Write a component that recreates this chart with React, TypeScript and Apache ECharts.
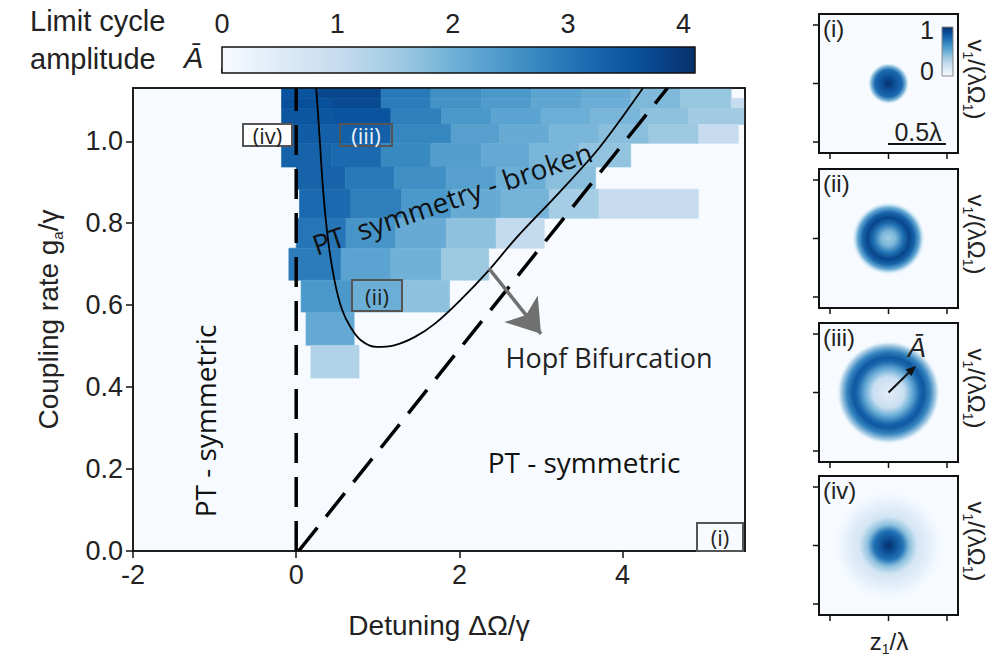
import React, { useEffect, useRef } from 'react';
import * as echarts from 'echarts';

const AX_FONT = "'Liberation Sans', Arial, Helvetica, sans-serif";
const AN_FONT = "'Open Sans', 'Liberation Sans', sans-serif";

// ---- axes ----
const xTicks = [-2, 0, 2, 4];
const yTicks = [0, 0.2, 0.4, 0.6, 0.8, 1.0];
const colorbarTicks = [0, 1, 2, 3, 4];
const xMin = -2;
const xMax = 5.5;
const yMin = 0;
const yMax = 1.13;
const ampMin = 0;
const ampMax = 4.1;

// ---- limit-cycle amplitude map: row edges (g_a/γ) and cells [x0, x1, amplitude] ----
const rowEdges = [1.13, 1.105, 1.08, 1.041, 0.995, 0.937, 0.883, 0.812, 0.739, 0.661, 0.583, 0.502, 0.422];
const row01 = [[-0.18, 0.26, 3.55], [0.26, 1.04, 3.75], [1.04, 1.65, 2.95], [1.65, 2.27, 2.6], [2.27, 2.88, 2.45], [2.88, 3.49, 2.25], [3.49, 4.1, 2.1], [4.1, 4.71, 1.85], [4.71, 5.33, 1.6]];
const row02 = [[-0.18, 0.43, 3.6], [0.43, 1.04, 3.7], [1.04, 1.65, 2.9], [1.65, 2.27, 2.55], [2.27, 2.88, 2.4], [2.88, 3.49, 2.2], [3.49, 4.1, 2.05], [4.1, 4.71, 1.85], [4.71, 5.33, 1.6], [5.33, 5.49, 1.0]];
const row03 = [[-0.18, 0.45, 3.5], [0.45, 1.16, 3.55], [1.16, 1.78, 2.85], [1.78, 2.39, 2.45], [2.39, 3.0, 2.25], [3.0, 3.6, 2.05], [3.6, 4.22, 1.9], [4.22, 4.81, 1.7], [4.81, 5.49, 1.5]];
const row04 = [[-0.18, 0.3, 3.4], [0.3, 1.16, 3.35], [1.16, 1.9, 2.75], [1.9, 2.49, 2.3], [2.49, 3.1, 2.1], [3.1, 3.71, 1.9], [3.71, 4.32, 1.75], [4.32, 4.93, 1.55], [4.93, 5.42, 1.0]];
const row05 = [[-0.18, 0.43, 3.3], [0.43, 1.04, 3.2], [1.04, 1.65, 2.7], [1.65, 2.27, 2.35], [2.27, 2.86, 2.15], [2.86, 3.47, 1.9], [3.47, 4.1, 1.65]];
const row06 = [[0.0, 0.6, 3.3], [0.6, 1.2, 2.95], [1.2, 1.84, 2.6], [1.84, 2.45, 2.3], [2.45, 3.06, 2.05], [3.06, 3.67, 1.75]];
const row07 = [[0.04, 0.67, 3.2], [0.67, 1.29, 2.85], [1.29, 1.9, 2.45], [1.9, 2.51, 2.1], [2.51, 3.1, 1.95], [3.1, 3.71, 1.45], [3.71, 4.93, 1.0]];
const row08 = [[0.0, 0.61, 3.0], [0.61, 1.22, 2.5], [1.22, 1.84, 2.1], [1.84, 2.45, 1.7], [2.45, 3.04, 1.05]];
const row09 = [[-0.09, 0.55, 2.9], [0.55, 1.16, 2.25], [1.16, 1.78, 2.0], [1.78, 2.36, 1.55]];
const row10 = [[0.06, 0.69, 2.45], [0.69, 1.29, 2.05], [1.29, 1.88, 1.7]];
const row11 = [[0.12, 0.71, 2.15]];
const row12 = [[0.18, 0.77, 1.3]];
const heatRows = [row01, row02, row03, row04, row05, row06, row07, row08, row09, row10, row11, row12];

// ---- boundaries ----
const verticalBoundary = [[0, 0], [0, 1.13]];
const hopfBoundary = [[0.03, 0], [4.55, 1.13]];
const brokenBoundary = [
  [0.245, 1.13], [0.27, 1.06], [0.29, 1.0], [0.33, 0.88], [0.39, 0.76], [0.47, 0.66], [0.56, 0.59],
  [0.67, 0.545], [0.8, 0.513], [0.98, 0.498], [1.2, 0.502], [1.45, 0.522], [1.7, 0.555], [2.0, 0.61],
  [2.36, 0.685], [2.7, 0.765], [3.2, 0.87], [3.71, 0.983], [4.25, 1.13],
];
const hopfArrow = [[2.36, 0.69], [3.0, 0.53]];

const BLUES = ['#f7fbff', '#deebf7', '#c6dbef', '#9ecae1', '#6baed6', '#4292c6', '#2171b5', '#08519c', '#08306b'];

function hexToRgb(h: string) {
  return [parseInt(h.slice(1, 3), 16), parseInt(h.slice(3, 5), 16), parseInt(h.slice(5, 7), 16)];
}
function blues(v: number) {
  const t = Math.max(0, Math.min(1, (v - ampMin) / (ampMax - ampMin))) * (BLUES.length - 1);
  const i = Math.min(BLUES.length - 2, Math.floor(t));
  const f = t - i;
  const a = hexToRgb(BLUES[i]);
  const b = hexToRgb(BLUES[i + 1]);
  const c = a.map((av, k) => Math.round(av + (b[k] - av) * f));
  return `rgb(${c[0]},${c[1]},${c[2]})`;
}

const axisLineStyle = { color: '#111', width: 1.5 };

function radial(stops: [number, string][]) {
  return new echarts.graphic.RadialGradient(0.5, 0.5, 0.5, stops.map(([o, c]) => ({ offset: o, color: c })));
}

function buildGraphics() {
  const g: any[] = [];
  const txt = (x: number, y: number, text: string, opts: any = {}) => ({
    type: 'text', x, y, z: 100, rotation: opts.rotation || 0,
    style: {
      text, fill: opts.fill || '#222', fontSize: opts.fontSize || 27, fontFamily: opts.fontFamily || AN_FONT,
      fontStyle: opts.fontStyle || 'normal', align: opts.align || 'center', verticalAlign: opts.verticalAlign || 'middle',
      rich: opts.rich,
    },
  });
  // colour bar title
  g.push(txt(30, 21, 'Limit cycle', { align: 'left', fontFamily: AX_FONT, fontSize: 29 }));
  g.push(txt(30, 59, 'amplitude', { align: 'left', fontFamily: AX_FONT, fontSize: 29 }));
  g.push(txt(184, 58, 'Ā', { align: 'left', fontFamily: AX_FONT, fontSize: 29, fontStyle: 'italic' }));

  // annotations in the main panel
  g.push(txt(452, 198, 'PT  symmetry - broken', { rotation: 0.33, fontSize: 28, fill: '#111' }));
  g.push(txt(609, 357, 'Hopf Bifurcation', { fontSize: 27 }));
  g.push(txt(584, 462, 'PT - symmetric', { fontSize: 28, fill: '#111' }));
  g.push(txt(205, 421, 'PT - symmetric', { fontSize: 28, fill: '#111', rotation: Math.PI / 2 }));

  const box = (x: number, y: number, w: number, h: number, label: string, fill: string, color: string) => {
    g.push({ type: 'rect', z: 100, shape: { x, y, width: w, height: h }, style: { fill, stroke: '#555', lineWidth: 2 } });
    g.push(txt(x + w / 2, y + h / 2, label, { fontSize: 22, fill: color }));
  };
  box(243, 124, 49, 22, '(iv)', '#ffffff', '#222');
  box(340, 124, 52, 22, '(iii)', 'rgba(0,0,0,0)', '#eef3f8');
  box(352, 280, 50, 31, '(ii)', 'rgba(0,0,0,0)', '#222');
  box(697, 523, 46, 28, '(i)', '#f7fbff', '#222');

  // right-hand phase-space panels
  const L = 819;
  const S = 139;
  const cx = L + S / 2;
  const tops = [14, 169, 323, 476];
  const labels = ['(i)', '(ii)', '(iii)', '(iv)'];
  const blobs: { r: number; stops: [number, string][] }[] = [
    { r: 21, stops: [[0, '#08306b'], [0.3, '#0b4e97'], [0.65, '#1c6ab0'], [0.84, '#8fc2de'], [1, 'rgba(247,251,255,0)']] },
    { r: 37, stops: [[0, '#a3cce2'], [0.2, '#7ab6d9'], [0.4, '#2070b4'], [0.56, '#08458a'], [0.7, '#1763aa'], [0.84, '#6aaed6'], [1, 'rgba(247,251,255,0)']] },
    { r: 52, stops: [[0, '#e4eef9'], [0.3, '#c9def1'], [0.45, '#6aaed6'], [0.6, '#1a67ad'], [0.68, '#0e58a2'], [0.8, '#3686c0'], [0.92, '#b5d4e9'], [1, 'rgba(247,251,255,0)']] },
    { r: 58, stops: [[0, '#08306b'], [0.1, '#0a4a90'], [0.25, '#2272b6'], [0.36, '#8cc0dd'], [0.5, '#d4e5f4'], [0.75, '#e8f1fb'], [1, 'rgba(247,251,255,0)']] },
  ];
  tops.forEach((T, k) => {
    const cy = T + S / 2;
    g.push({ type: 'rect', z: 90, shape: { x: L, y: T, width: S, height: S }, style: { fill: '#f7fbff', stroke: 'none' } });
    g.push({ type: 'circle', z: 91, shape: { cx, cy, r: blobs[k].r }, style: { fill: radial(blobs[k].stops) } });
    g.push({ type: 'rect', z: 95, shape: { x: L, y: T, width: S, height: S }, style: { fill: 'none', stroke: '#111', lineWidth: 2 } });
    [11, 69.5, 128].forEach((o) => {
      g.push({ type: 'line', z: 95, shape: { x1: L - 6, y1: T + o, x2: L, y2: T + o }, style: { stroke: '#111', lineWidth: 1.5 } });
      g.push({ type: 'line', z: 95, shape: { x1: L + o, y1: T + S, x2: L + o, y2: T + S + 6 }, style: { stroke: '#111', lineWidth: 1.5 } });
    });
    g.push(txt(L + 4, T + 14, labels[k], { align: 'left', fontFamily: AX_FONT, fontSize: 24 }));
    g.push(txt(976, cy - 4, '{n|v}{s|1}{n|/(λΩ}{s|1}{n|)}', {
      rotation: -Math.PI / 2, fontFamily: AX_FONT, fontSize: 24,
      rich: {
        n: { fontSize: 24, fontFamily: AX_FONT, fill: '#222', lineHeight: 30 },
        s: { fontSize: 14, fontFamily: AX_FONT, fill: '#222', lineHeight: 14, verticalAlign: 'bottom' },
      },
    }));
  });
  // panel (i) extras: mini colour bar and scale bar
  g.push({
    type: 'rect', z: 96, shape: { x: 942, y: 27, width: 11, height: 49 },
    style: {
      fill: new echarts.graphic.LinearGradient(0, 0, 0, 1, BLUES.slice().reverse().map((c, i) => ({ offset: i / 8, color: c }))),
      stroke: '#888', lineWidth: 1,
    },
  });
  g.push(txt(934, 30, '1', { align: 'right', fontFamily: AX_FONT, fontSize: 25 }));
  g.push(txt(934, 71, '0', { align: 'right', fontFamily: AX_FONT, fontSize: 25 }));
  g.push({ type: 'line', z: 96, shape: { x1: 888, y1: 144, x2: 946, y2: 144 }, style: { stroke: '#111', lineWidth: 2 } });
  g.push(txt(918, 132, '0.5λ', { fontFamily: AX_FONT, fontSize: 25 }));
  // panel (iii) radius arrow
  g.push({ type: 'line', z: 96, shape: { x1: 888.5, y1: 392.5, x2: 910, y2: 371.5 }, style: { stroke: '#111', lineWidth: 2 } });
  g.push({ type: 'polygon', z: 96, shape: { points: [[916, 366], [911.5, 376], [905.5, 369.5]] }, style: { fill: '#111' } });
  g.push(txt(917, 348, 'Ā', { fontFamily: AX_FONT, fontSize: 27, fontStyle: 'italic' }));
  // bottom label
  g.push(txt(889, 641, '{n|z}{s|1}{n|/λ}', {
    fontFamily: AX_FONT, fontSize: 24,
    rich: {
      n: { fontSize: 24, fontFamily: AX_FONT, fill: '#222', lineHeight: 30 },
      s: { fontSize: 14, fontFamily: AX_FONT, fill: '#222', lineHeight: 14, verticalAlign: 'bottom' },
    },
  }));
  return g;
}

export default function App() {
  const ref = useRef<HTMLDivElement>(null);
  useEffect(() => {
    if (!ref.current) return;
    const chart = echarts.init(ref.current, null, { renderer: 'svg' });
    const heatData: number[][] = [];
    heatRows.forEach((row, i) => {
      row.forEach(([x0, x1, v]) => heatData.push([x0, x1, rowEdges[i + 1], rowEdges[i], v]));
    });

    const option: any = {
      animation: false,
      backgroundColor: '#ffffff',
      textStyle: { fontFamily: AX_FONT },
      grid: [
        { left: 133, top: 88, width: 612, height: 463, show: true, backgroundColor: '#f7fbff', borderColor: '#111', borderWidth: 1.5 },
        { left: 222, top: 47, width: 473, height: 26, show: false },
      ],
      xAxis: [
        {
          gridIndex: 0, type: 'value', min: xMin, max: xMax, interval: 2, position: 'bottom', z: 10,
          name: 'Detuning ΔΩ/γ', nameLocation: 'middle', nameGap: 60,
          nameTextStyle: { fontSize: 28, color: '#222', fontFamily: AX_FONT },
          axisLine: { show: true, onZero: false, lineStyle: axisLineStyle },
          axisTick: { show: true, length: 7, lineStyle: axisLineStyle, customValues: xTicks },
          axisLabel: { customValues: xTicks, fontSize: 27, color: '#222', margin: 10, fontFamily: AX_FONT },
          splitLine: { show: false },
        },
        {
          gridIndex: 0, type: 'value', min: xMin, max: xMax, position: 'top', z: 10,
          axisLine: { show: true, onZero: false, lineStyle: axisLineStyle },
          axisTick: { show: false }, axisLabel: { show: false }, splitLine: { show: false },
        },
        {
          gridIndex: 1, type: 'value', min: ampMin, max: ampMax, interval: 1, position: 'top',
          axisLine: { show: false },
          axisTick: { show: true, length: 5, lineStyle: axisLineStyle, customValues: colorbarTicks },
          axisLabel: { customValues: colorbarTicks, fontSize: 27, color: '#222', margin: 10, fontFamily: AX_FONT },
          splitLine: { show: false },
        },
      ],
      yAxis: [
        {
          gridIndex: 0, type: 'value', min: yMin, max: yMax, interval: 0.2, position: 'left', z: 10,
          name: 'Coupling rate g{s|a}/γ', nameLocation: 'middle', nameGap: 68,
          nameTextStyle: {
            fontSize: 28, color: '#222', fontFamily: AX_FONT, lineHeight: 34,
            rich: { s: { fontSize: 15, color: '#222', fontFamily: AX_FONT, lineHeight: 15, verticalAlign: 'bottom' } },
          },
          axisLine: { show: true, onZero: false, lineStyle: axisLineStyle },
          axisTick: { show: true, length: 7, lineStyle: axisLineStyle, customValues: yTicks },
          axisLabel: {
            customValues: yTicks, fontSize: 27, color: '#222', margin: 10, fontFamily: AX_FONT,
            formatter: (v: number) => v.toFixed(1),
          },
          splitLine: { show: false },
        },
        {
          gridIndex: 0, type: 'value', min: yMin, max: yMax, position: 'right', z: 10,
          axisLine: { show: true, onZero: false, lineStyle: axisLineStyle },
          axisTick: { show: false }, axisLabel: { show: false }, splitLine: { show: false },
        },
        { gridIndex: 1, type: 'value', min: 0, max: 1, show: false },
      ],
      series: [
        {
          type: 'custom', xAxisIndex: 0, yAxisIndex: 0, z: 1, silent: true,
          data: heatData, encode: { x: [0, 1], y: [2, 3] },
          renderItem: (params: any, api: any) => {
            const p0 = api.coord([api.value(0), api.value(3)]);
            const p1 = api.coord([api.value(1), api.value(2)]);
            const c = blues(api.value(4));
            return {
              type: 'rect',
              shape: { x: p0[0], y: p0[1], width: p1[0] - p0[0], height: p1[1] - p0[1] },
              style: { fill: c, stroke: c, lineWidth: 0.6 },
            };
          },
        },
        {
          type: 'line', xAxisIndex: 0, yAxisIndex: 0, z: 5, silent: true, symbol: 'none', data: verticalBoundary,
          lineStyle: { color: '#000', width: 3.5, type: [30, 14] },
        },
        {
          type: 'line', xAxisIndex: 0, yAxisIndex: 0, z: 5, silent: true, symbol: 'none', data: hopfBoundary,
          lineStyle: { color: '#000', width: 3.5, type: [30, 14] },
        },
        {
          type: 'line', xAxisIndex: 0, yAxisIndex: 0, z: 5, silent: true, symbol: 'none', smooth: 0.3, data: brokenBoundary,
          lineStyle: { color: '#000', width: 1.8 },
        },
        {
          type: 'lines', coordinateSystem: 'cartesian2d', xAxisIndex: 0, yAxisIndex: 0, z: 6, silent: true,
          symbol: ['none', 'arrow'], symbolSize: 32,
          data: [{ coords: hopfArrow }],
          lineStyle: { color: '#707070', width: 3.5, opacity: 1 },
          itemStyle: { color: '#707070' },
        },
        {
          type: 'custom', xAxisIndex: 2, yAxisIndex: 2, silent: true,
          data: [[ampMin, ampMax, 0, 1]], encode: { x: [0, 1], y: [2, 3] },
          renderItem: (params: any, api: any) => {
            const a = api.coord([api.value(0), api.value(2)]);
            const b = api.coord([api.value(1), api.value(3)]);
            return {
              type: 'rect',
              shape: { x: a[0], y: b[1], width: b[0] - a[0], height: a[1] - b[1] },
              style: {
                fill: new echarts.graphic.LinearGradient(0, 0, 1, 0, BLUES.map((c, i) => ({ offset: i / (BLUES.length - 1), color: c }))),
                stroke: '#111', lineWidth: 1.5,
              },
            };
          },
        },
      ],
      graphic: buildGraphics(),
    };
    chart.setOption(option);
    return () => chart.dispose();
  }, []);
  return <div ref={ref} style={{ position: 'fixed', left: 0, top: 0, width: 999, height: 656 }} />;
}
